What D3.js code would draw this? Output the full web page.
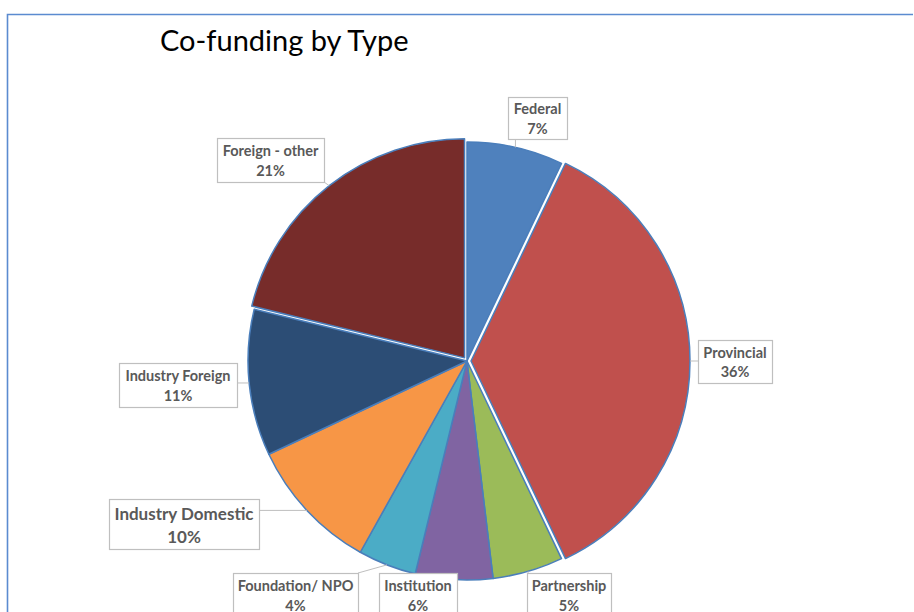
<!DOCTYPE html>
<html>
<head>
<meta charset="utf-8">
<script src="https://cdn.jsdelivr.net/npm/d3@7"></script>
<style>
  body { margin: 0; background: #fff; }
  text { font-family: Lato, "Open Sans", sans-serif; }
</style>
</head>
<body>
<svg id="pieSVG"></svg>
<script>
// data
const categories = ["Federal", "Provincial", "Partnership", "Institution", "Foundation/ NPO",
                    "Industry Domestic", "Industry Foreign", "Foreign - other"];
const shares = [7.1, 35.8, 5.2, 5.7, 4.3, 9.9, 10.8, 21.2];
const pctLabels = ["7%", "36%", "5%", "6%", "4%", "10%", "11%", "21%"];
const exploded = ["Provincial", "Foreign - other"];

const colors = ["#4f81bd", "#c0504d", "#9bbb59", "#8064a2", "#4bacc6", "#f79646", "#2c4d75", "#772c2a"];

// label box layout [x, y, w, h, fontSize]
const boxLayout = {
    "Federal": [508, 97, 59, 42, 14.5],
    "Provincial": [698, 340, 74, 43, 14.5],
    "Partnership": [527, 573, 84, 44, 14.5],
    "Institution": [379, 573, 78, 44, 14.5],
    "Foundation/ NPO": [233, 573, 125, 44, 14.5],
    "Industry Domestic": [109, 499, 150, 50, 17],
    "Industry Foreign": [119, 363, 118, 44, 14.5],
    "Foreign - other": [217, 138, 107, 44, 14.5]
};

const width = 914, height = 612;
const cx = 467, cy = 361, radius = 219;

const svg = d3.select("#pieSVG")
    .attr("width", width)
    .attr("height", height);

// chart frame
svg.append("path")
    .attr("d", `M7.5,${height} L7.5,14.5 L913,14.5`)
    .attr("fill", "none")
    .attr("stroke", "#5b8bd0")
    .attr("stroke-width", 1.6);

svg.append("text")
    .attr("x", 160)
    .attr("y", 51)
    .style("font-size", "29px")
    .style("fill", "#000")
    .text("Co-funding by Type");

const data = categories.map((c, i) => ({category: c, value: shares[i], pct: pctLabels[i], color: colors[i]}));

const pie = d3.pie().sort(null).value(d => d.value);
const arcs = pie(data);

const arc = d3.arc().innerRadius(0).outerRadius(radius);

const g = svg.append("g").attr("transform", `translate(${cx},${cy})`);

const offset = d => {
    if (!exploded.includes(d.data.category)) return [0, 0];
    const a = (d.startAngle + d.endAngle) / 2;
    return [Math.sin(a) * 4, -Math.cos(a) * 4];
};

g.selectAll(".slice")
    .data(arcs)
    .enter().append("path")
        .attr("class", "slice")
        .attr("transform", d => `translate(${offset(d)})`)
        .attr("d", arc)
        .attr("fill", d => d.data.color)
        .attr("stroke", "#4a7ebb")
        .attr("stroke-width", 1.5)
        .attr("stroke-linejoin", "round");

// callout labels
const labels = svg.append("g");

arcs.forEach(d => {
    const [bx, by, bw, bh, fs] = boxLayout[d.data.category];
    const a = (d.startAngle + d.endAngle) / 2;
    const off = offset(d);
    // point on the pie edge toward the label
    const ex = cx + off[0] + Math.sin(a) * radius;
    const ey = cy + off[1] - Math.cos(a) * radius;
    // nearest point on the box
    const px = Math.max(bx, Math.min(bx + bw, ex));
    const py = Math.max(by, Math.min(by + bh, ey));

    labels.append("line")
        .attr("x1", px).attr("y1", py)
        .attr("x2", ex).attr("y2", ey)
        .attr("stroke", "#bfbfbf")
        .attr("stroke-width", 1);

    labels.append("rect")
        .attr("x", bx + 0.5).attr("y", by + 0.5)
        .attr("width", bw).attr("height", bh)
        .attr("fill", "#fff")
        .attr("stroke", "#bfbfbf")
        .attr("stroke-width", 1.2);

    const t = labels.append("text")
        .attr("text-anchor", "middle")
        .style("font-size", fs + "px")
        .style("font-weight", "bold")
        .style("fill", "#595959");
    t.append("tspan")
        .attr("x", bx + bw / 2)
        .attr("y", by + bh / 2 - fs * 0.25)
        .text(d.data.category);
    t.append("tspan")
        .attr("x", bx + bw / 2)
        .attr("y", by + bh / 2 + fs * 1.1)
        .text(d.data.pct);
});
</script>
</body>
</html>
